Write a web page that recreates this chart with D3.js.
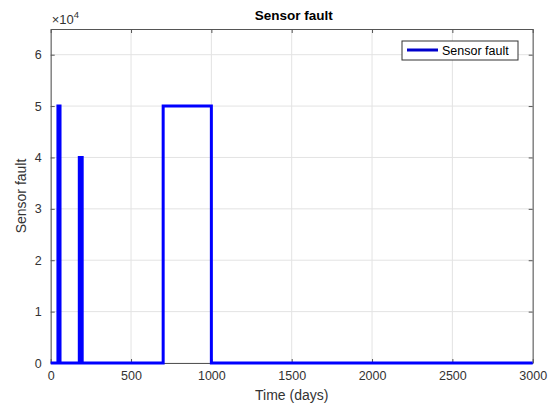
<!DOCTYPE html>
<html>
<head>
<meta charset="utf-8">
<script src="https://cdn.jsdelivr.net/npm/d3@7"></script>
<style>
  html, body { margin: 0; padding: 0; background: #fff; }
  svg { display: block; font-family: "Liberation Sans", Arial, sans-serif; }
</style>
</head>
<body>
<svg id="chart" width="555" height="410"></svg>
<script>
// ---- data (step signal breakpoints) ----
const timeDays = [0, 45, 45, 58, 58, 178, 178, 184, 184, 190, 190, 196, 196, 200, 200, 700, 700, 1000, 1000, 3000];
const faultValues = [0, 0, 50000, 50000, 0, 0, 40000, 40000, 0, 0, 40000, 40000, 0, 0, 0, 0, 50000, 50000, 0, 0];
const xTicks = [0, 500, 1000, 1500, 2000, 2500, 3000];
const yTicks = [0, 10000, 20000, 30000, 40000, 50000, 60000];
const yTickLabels = ["0", "1", "2", "3", "4", "5", "6"];
const seriesName = "Sensor fault";
const titleText = "Sensor fault";
const xLabelText = "Time (days)";
const yLabelText = "Sensor fault";

(function () {
const svg = d3.select("#chart");
const mLeft = 50.7, mRight = 532.7, mTop = 29, mBottom = 363;

const x = d3.scaleLinear().domain([0, 3000]).range([mLeft, mRight]);
const y = d3.scaleLinear().domain([0, 65000]).range([mBottom, mTop]);

const axisColor = "#333333";
const gridColor = "#e3e3e3";

// grid
svg.append("g").selectAll("line").data(xTicks).join("line")
  .attr("x1", d => x(d)).attr("x2", d => x(d))
  .attr("y1", mTop).attr("y2", mBottom)
  .attr("stroke", gridColor).attr("stroke-width", 1);
svg.append("g").selectAll("line").data(yTicks).join("line")
  .attr("x1", mLeft).attr("x2", mRight)
  .attr("y1", d => y(d)).attr("y2", d => y(d))
  .attr("stroke", gridColor).attr("stroke-width", 1);

// axes
const xAxisB = d3.axisBottom(x).tickValues(xTicks).tickSizeInner(-4).tickSizeOuter(0).tickPadding(8)
  .tickFormat(d3.format("d"));
const xAxisT = d3.axisTop(x).tickValues(xTicks).tickSizeInner(-4).tickSizeOuter(0).tickFormat("");
const yAxisL = d3.axisLeft(y).tickValues(yTicks).tickSizeInner(-4).tickSizeOuter(0).tickPadding(9)
  .tickFormat((d, i) => yTickLabels[i]);
const yAxisR = d3.axisRight(y).tickValues(yTicks).tickSizeInner(-4).tickSizeOuter(0).tickFormat("");

function styleAxis(g) {
  g.select(".domain").attr("stroke", "#555").attr("stroke-width", 1);
  g.selectAll(".tick line").attr("stroke", "#555");
  g.selectAll(".tick text").attr("fill", axisColor).attr("font-size", 12.5)
    .attr("font-family", "Liberation Sans, Arial, sans-serif");
}

const pts = timeDays.map((t, i) => [t, faultValues[i]]);
const line = d3.line().x(d => x(d[0])).y(d => y(d[1]));

svg.append("g").attr("transform", `translate(0,${mBottom})`).call(xAxisB).call(styleAxis);
svg.append("g").attr("transform", `translate(0,${mTop})`).call(xAxisT).call(styleAxis);
svg.append("g").attr("transform", `translate(${mLeft},0)`).call(yAxisL).call(styleAxis);
svg.append("g").attr("transform", `translate(${mRight},0)`).call(yAxisR).call(styleAxis);

// line
svg.append("path").datum(pts)
  .attr("d", line)
  .attr("fill", "none")
  .attr("stroke", "#0000ff")
  .attr("stroke-width", 3)
  .attr("stroke-linejoin", "miter");

// exponent label
const expo = svg.append("text").attr("x", mLeft + 1).attr("y", 24)
  .attr("fill", axisColor).attr("font-size", 13);
expo.append("tspan").text("\u00d710");
expo.append("tspan").attr("dy", -6).attr("font-size", 9.5).text("4");

// title
svg.append("text").attr("x", (mLeft + mRight) / 2 + 2).attr("y", 20)
  .attr("text-anchor", "middle").attr("font-weight", "bold")
  .attr("font-size", 13.5).attr("fill", "#000").text(titleText);

// x label
svg.append("text").attr("x", (mLeft + mRight) / 2).attr("y", 400)
  .attr("text-anchor", "middle").attr("font-size", 14).attr("fill", axisColor).text(xLabelText);

// y label
svg.append("text").attr("transform", `translate(26,${(mTop + mBottom) / 2}) rotate(-90)`)
  .attr("text-anchor", "middle").attr("font-size", 14).attr("fill", axisColor).text(yLabelText);

// legend
const lg = svg.append("g");
lg.append("rect").attr("x", 402).attr("y", 41).attr("width", 116).attr("height", 19)
  .attr("fill", "#fff").attr("stroke", axisColor).attr("stroke-width", 1);
lg.append("line").attr("x1", 407).attr("x2", 438).attr("y1", 50).attr("y2", 50)
  .attr("stroke", "#0000cc").attr("stroke-width", 3);
lg.append("text").attr("x", 442).attr("y", 54.5).attr("font-size", 12.5)
  .attr("fill", "#000").text(seriesName);
})();
</script>
</body>
</html>
